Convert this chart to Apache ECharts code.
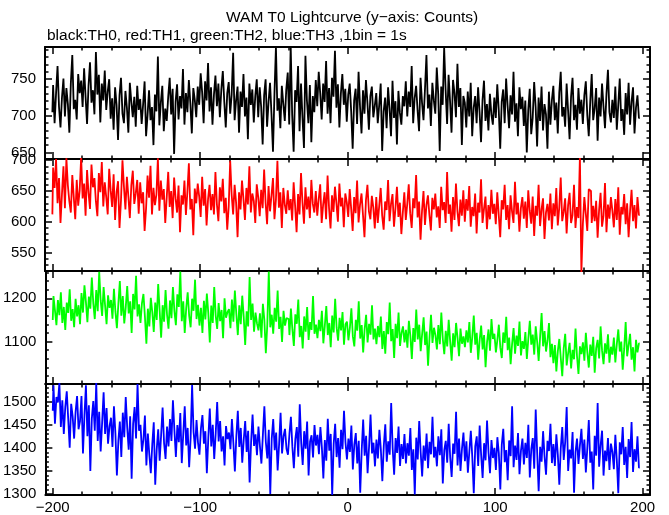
<!DOCTYPE html>
<html><head><meta charset="utf-8">
<script src="https://cdn.jsdelivr.net/npm/echarts@6/dist/echarts.min.js"></script>
<style>html,body{margin:0;padding:0;background:#fff}#c{width:669px;height:515px}</style>
</head><body><div id="c"></div>
<script>
const titleText = 'WAM T0 Lightcurve (y\u2212axis: Counts)';
const subtitleText = 'black:TH0, red:TH1, green:TH2, blue:TH3 ,1bin = 1s';
const binStart = -200, binWidth = 1;

const th0 = [
705,742,690,731,768,712,684,725,751,699,738,716,677,744,783,709,722,695,757,731,
748,712,765,726,689,741,773,718,735,702,787,729,756,691,744,721,762,708,733,750,
696,724,681,739,715,667,728,752,703,690,734,711,677,745,719,698,726,685,741,708,
723,689,716,747,672,701,735,694,712,660,729,706,781,687,718,741,679,710,693,726,
752,702,737,648,719,743,695,727,710,764,688,731,705,749,717,676,738,722,698,740,
715,758,732,690,747,721,772,706,739,688,729,755,713,744,698,736,761,719,684,731,
746,703,729,786,694,721,740,677,733,712,757,699,725,668,744,715,736,691,727,750,
698,739,712,661,728,750,685,719,745,702,651,730,794,707,724,683,741,716,693,736,
759,688,796,702,651,735,719,768,679,744,697,656,782,721,690,742,664,727,705,749,
713,760,731,695,744,719,775,703,738,690,752,726,789,711,743,684,730,757,715,737,
692,729,744,706,655,721,737,689,760,712,676,735,703,749,718,681,727,740,698,714,
731,690,715,744,652,706,725,683,739,710,672,748,697,720,661,734,704,688,727,713,
747,699,733,712,768,690,724,741,707,679,752,718,694,736,783,710,729,686,745,721,
703,766,729,652,740,715,793,735,689,756,720,677,749,731,698,771,712,738,660,727,
718,684,733,699,745,672,711,727,690,739,705,664,721,748,693,716,680,730,702,688,
725,697,743,708,655,719,736,690,751,714,683,728,702,760,692,717,672,739,709,726,
686,721,650,708,737,675,697,746,712,658,725,693,740,680,716,702,655,733,688,721,
741,694,718,676,731,760,699,712,685,744,707,668,726,752,694,715,681,738,703,722,
689,728,747,701,672,719,757,694,710,738,666,725,699,744,712,683,730,763,705,691,
722,697,740,681,715,751,693,709,674,731,702,745,688,719,739,676,711,728,697
];
const th1 = [
612,688,655,702,630,671,598,645,690,622,703,659,633,615,676,640,604,668,626,651,
705,638,662,610,684,647,621,693,656,671,633,609,679,648,697,625,664,640,612,686,
651,624,677,603,648,666,590,635,700,657,620,673,641,606,659,683,629,646,668,613,
664,630,648,585,622,675,639,691,612,655,627,644,703,618,667,636,653,598,640,681,
624,650,606,672,638,615,659,583,643,628,667,611,649,695,620,637,578,654,630,662,
641,608,673,626,653,594,637,660,619,645,612,681,628,601,656,633,670,614,639,587,
625,699,644,612,660,631,575,648,620,667,637,603,655,628,690,615,646,634,598,661,
640,609,652,622,685,631,596,658,617,643,671,604,636,699,623,648,590,655,628,613,
651,619,637,602,664,626,583,645,612,679,631,597,656,620,641,606,668,629,615,650,
610,637,661,598,628,648,604,675,622,589,643,616,657,630,600,662,625,639,591,646,
632,608,653,621,585,640,614,667,599,628,646,611,575,635,660,617,604,642,623,589,
640,598,626,655,610,587,633,619,668,601,629,645,592,622,657,608,631,580,615,648,
603,629,661,614,590,638,622,676,607,633,571,618,650,595,627,643,611,586,639,620,
646,607,625,590,657,619,632,598,681,613,628,584,640,603,662,617,593,636,610,651,
600,637,618,658,592,624,609,646,581,631,615,669,598,621,641,588,627,604,652,613,
629,596,648,611,575,635,620,660,603,627,588,643,617,598,665,612,631,584,622,640,
605,633,590,651,618,597,641,577,626,610,660,593,620,638,572,615,629,602,646,588,
630,609,655,594,623,672,601,616,638,581,627,647,598,611,660,590,624,606,706,518,
596,640,613,585,653,650,598,626,601,634,574,619,647,592,610,663,583,628,605,640,
618,591,637,603,656,579,624,612,645,596,630,575,618,652,601,627,589,640,611
];
const th2 = [
1150,1205,1172,1138,1196,1161,1214,1143,1180,1127,1190,1166,1221,1148,1175,1133,1199,1158,1184,1140,
1212,1167,1230,1191,1145,1204,1176,1248,1188,1152,1219,1170,1261,1195,1159,1226,1183,1140,1207,1178,
1196,1153,1222,1169,1131,1187,1240,1160,1205,1142,1179,1228,1165,1193,1120,1210,1174,1252,1158,1186,
1143,1189,1210,1158,1095,1176,1135,1201,1168,1122,1190,1150,1233,1171,1109,1184,1146,1219,1162,1130,
1195,1154,1226,1170,1138,1209,1180,1262,1147,1193,1120,1177,1214,1160,1133,1199,1171,1243,1152,1185,
1137,1178,1120,1194,1151,1211,1165,1098,1183,1143,1226,1160,1129,1189,1147,1173,1108,1200,1155,1168,
1175,1131,1197,1146,1218,1163,1115,1184,1140,1206,1157,1092,1170,1135,1249,1150,1188,1123,1167,1142,
1126,1165,1109,1187,1150,1073,1140,1262,1133,1162,1118,1178,1146,1218,1129,1157,1099,1171,1137,1154,
1152,1115,1176,1128,1090,1163,1141,1197,1110,1136,1084,1158,1123,1180,1104,1145,1127,1205,1118,1139,
1108,1150,1124,1171,1096,1137,1182,1115,1143,1087,1160,1121,1199,1132,1102,1155,1126,1168,1093,1140,
1146,1103,1132,1177,1112,1089,1150,1125,1193,1107,1138,1075,1129,1162,1098,1141,1116,1184,1105,1130,
1094,1136,1110,1158,1083,1124,1072,1145,1117,1190,1101,1129,1062,1141,1108,1167,1090,1120,1135,1098,
1127,1086,1148,1113,1060,1131,1099,1174,1105,1139,1078,1118,1156,1092,1123,1044,1110,1162,1097,1132,
1115,1082,1138,1094,1167,1106,1071,1125,1089,1150,1100,1056,1119,1087,1143,1108,1066,1130,1095,1112,
1087,1126,1098,1145,1074,1111,1160,1093,1120,1058,1104,1137,1082,1115,1041,1099,1128,1079,1152,1106,
1118,1075,1104,1139,1086,1062,1121,1097,1157,1080,1109,1048,1095,1131,1072,1114,1090,1146,1068,1101,
1083,1122,1060,1107,1148,1093,1116,1070,1135,1099,1055,1112,1166,1089,1124,1077,1102,1143,1064,1095,
1050,1092,1031,1078,1106,1062,1020,1085,1118,1045,1073,1097,1038,1081,1059,1130,1066,1025,1089,1071,
1098,1056,1120,1075,1040,1093,1067,1111,1028,1085,1104,1061,1135,1079,1048,1096,1072,1117,1051,1088,
1070,1109,1052,1094,1128,1077,1100,1035,1083,1145,1066,1092,1118,1058,1087,1031,1104,1075,1096
];
const th3 = [
1480,1535,1452,1510,1498,1540,1445,1503,1430,1488,1522,1462,1400,1495,1468,1420,1478,1512,1440,1458,
1512,1388,1470,1535,1425,1492,1350,1463,1501,1437,1540,1415,1478,1392,1455,1520,1430,1486,1409,1447,
1465,1402,1490,1431,1340,1415,1457,1380,1476,1423,1510,1444,1396,1468,1333,1452,1488,1420,1538,1437,
1450,1392,1418,1470,1362,1431,1385,1345,1408,1455,1320,1396,1440,1372,1428,1487,1410,1376,1446,1403,
1462,1415,1503,1438,1380,1449,1412,1475,1367,1430,1490,1405,1443,1358,1421,1536,1434,1398,1460,1411,
1385,1442,1471,1409,1436,1345,1422,1485,1403,1450,1376,1431,1499,1414,1458,1392,1425,1362,1447,1419,
1433,1397,1462,1410,1349,1425,1480,1402,1443,1368,1417,1458,1391,1437,1325,1412,1472,1404,1429,1384,
1446,1403,1366,1428,1490,1412,1377,1439,1300,1420,1462,1395,1433,1351,1408,1476,1388,1425,1441,1398,
1385,1430,1467,1402,1356,1419,1445,1381,1494,1410,1363,1436,1398,1457,1340,1414,1427,1379,1449,1405,
1428,1386,1445,1401,1334,1417,1372,1463,1394,1430,1298,1408,1452,1380,1421,1357,1439,1397,1480,1412,
1375,1420,1391,1448,1353,1407,1432,1366,1415,1303,1394,1461,1383,1426,1345,1403,1472,1388,1411,1360,
1418,1377,1439,1396,1328,1405,1451,1370,1414,1385,1497,1399,1342,1421,1389,1446,1361,1408,1376,1430,
1366,1410,1383,1443,1352,1397,1299,1422,1375,1458,1390,1338,1405,1372,1431,1356,1413,1386,1467,1379,
1402,1360,1425,1384,1440,1323,1395,1415,1368,1452,1379,1337,1409,1387,1478,1362,1420,1350,1398,1433,
1371,1414,1346,1392,1437,1380,1302,1403,1425,1361,1448,1384,1335,1410,1373,1459,1390,1345,1417,1378,
1400,1352,1423,1388,1310,1407,1441,1369,1395,1330,1416,1382,1490,1358,1405,1374,1432,1343,1394,1420,
1364,1411,1378,1450,1336,1397,1421,1355,1483,1389,1306,1402,1370,1436,1381,1342,1415,1393,1452,1367,
1408,1361,1429,1385,1320,1399,1445,1374,1413,1488,1350,1396,1377,1434,1303,1391,1420,1365,1406,1441,
1376,1418,1347,1400,1460,1368,1392,1310,1426,1383,1497,1359,1405,1437,1340,1394,1371,1421,1352,1409,
1391,1354,1428,1373,1302,1412,1386,1445,1363,1402,1335,1419,1380,1456,1348,1397,1370,1425,1357
];

const seriesList = [th0, th1, th2, th3];
const seriesColors = ['#000000', '#ff0000', '#00ff00', '#0000ff'];

const xRange = [-205, 205];
const xTickLabels = [-200, -100, 0, 100, 200];
const xMinorTicks = [-200,-180,-160,-140,-120,-100,-80,-60,-40,-20,0,20,40,60,80,100,120,140,160,180,200];

const yRanges = [[641, 794], [520, 702], [1002, 1263], [1298, 1538]];
const yTickLabels = [
  [650, 700, 750],
  [550, 600, 650, 700],
  [1100, 1200],
  [1300, 1350, 1400, 1450, 1500]
];
const yMinorTicks = [
  [650,660,670,680,690,700,710,720,730,740,750,760,770,780,790],
  [520,530,540,550,560,570,580,590,600,610,620,630,640,650,660,670,680,690,700],
  [1020,1040,1060,1080,1100,1120,1140,1160,1180,1200,1220,1240,1260],
  [1300,1310,1320,1330,1340,1350,1360,1370,1380,1390,1400,1410,1420,1430,1440,1450,1460,1470,1480,1490,1500,1510,1520,1530]
];

// layout
const gridTops = [47, 159, 271, 384];
const gridHeights = [112, 112, 113, 112];
const FONT = 'Liberation Sans, Arial, Helvetica, sans-serif';
const lineStyle = { color: '#000', width: 2 };

const grids = [], xAxes = [], yAxes = [], series = [];
const minusFmt = v => String(v).replace('-', '\u2212');
const plainFmt = v => String(v);

for (let i = 0; i < 4; i++) {
  grids.push({ left: 45, right: 19, top: gridTops[i], height: gridHeights[i], containLabel: false });
  const baseX = { type: 'value', gridIndex: i, min: xRange[0], max: xRange[1], splitLine: { show: false } };
  xAxes.push(Object.assign({}, baseX, {
    position: 'bottom',
    axisLine: { show: true, onZero: false, lineStyle },
    axisTick: { show: true, inside: true, length: 7, customValues: xTickLabels, lineStyle: { color: '#000', width: 1.5 } },
    axisLabel: { show: i === 3, customValues: xTickLabels, formatter: minusFmt, color: '#000', fontSize: 15, fontFamily: FONT, margin: 5 }
  }));
  xAxes.push(Object.assign({}, baseX, {
    position: 'bottom',
    axisLine: { show: false, onZero: false },
    axisTick: { show: true, inside: true, length: 3.5, customValues: xMinorTicks, lineStyle: { color: '#000', width: 1.5 } },
    axisLabel: { show: false }
  }));
  xAxes.push(Object.assign({}, baseX, {
    position: 'top',
    axisLine: { show: true, onZero: false, lineStyle },
    axisTick: { show: true, inside: true, length: 7, customValues: xTickLabels, lineStyle: { color: '#000', width: 1.5 } },
    axisLabel: { show: false }
  }));
  xAxes.push(Object.assign({}, baseX, {
    position: 'top',
    axisLine: { show: false, onZero: false },
    axisTick: { show: true, inside: true, length: 3.5, customValues: xMinorTicks, lineStyle: { color: '#000', width: 1.5 } },
    axisLabel: { show: false }
  }));

  const baseY = { type: 'value', gridIndex: i, min: yRanges[i][0], max: yRanges[i][1], splitLine: { show: false }, offset: 0 };
  yAxes.push(Object.assign({}, baseY, {
    position: 'left',
    axisLine: { show: true, onZero: false, lineStyle },
    axisTick: { show: true, inside: true, length: 7, customValues: yTickLabels[i], lineStyle: { color: '#000', width: 1.5 } },
    axisLabel: { show: true, customValues: yTickLabels[i], formatter: plainFmt, color: '#000', fontSize: 15, fontFamily: FONT, margin: 9 }
  }));
  yAxes.push(Object.assign({}, baseY, {
    position: 'left',
    axisLine: { show: false, onZero: false },
    axisTick: { show: true, inside: true, length: 3.5, customValues: yMinorTicks[i], lineStyle: { color: '#000', width: 1.5 } },
    axisLabel: { show: false }
  }));
  yAxes.push(Object.assign({}, baseY, {
    position: 'right',
    axisLine: { show: true, onZero: false, lineStyle },
    axisTick: { show: true, inside: true, length: 7, customValues: yTickLabels[i], lineStyle: { color: '#000', width: 1.5 } },
    axisLabel: { show: false }
  }));
  yAxes.push(Object.assign({}, baseY, {
    position: 'right',
    axisLine: { show: false, onZero: false },
    axisTick: { show: true, inside: true, length: 3.5, customValues: yMinorTicks[i], lineStyle: { color: '#000', width: 1.5 } },
    axisLabel: { show: false }
  }));

  series.push({
    type: 'line',
    xAxisIndex: i * 4,
    yAxisIndex: i * 4,
    data: seriesList[i].map((v, k) => [binStart + k * binWidth, v]),
    step: 'middle',
    showSymbol: false,
    symbol: 'none',
    clip: true,
    animation: false,
    lineStyle: { color: seriesColors[i], width: 1.8 },
    z: 1
  });
}

const chart = echarts.init(document.getElementById('c'), null, { renderer: 'canvas' });
chart.setOption({
  animation: false,
  backgroundColor: '#fff',
  grid: grids,
  xAxis: xAxes,
  yAxis: yAxes,
  series: series,
  graphic: [
    { type: 'text', left: 226, top: 10, style: { text: titleText, font: '15.5px ' + FONT, fill: '#000' } },
    { type: 'text', left: 47, top: 28, style: { text: subtitleText, font: '15.5px ' + FONT, fill: '#000' } }
  ]
});
</script>
</body></html>
